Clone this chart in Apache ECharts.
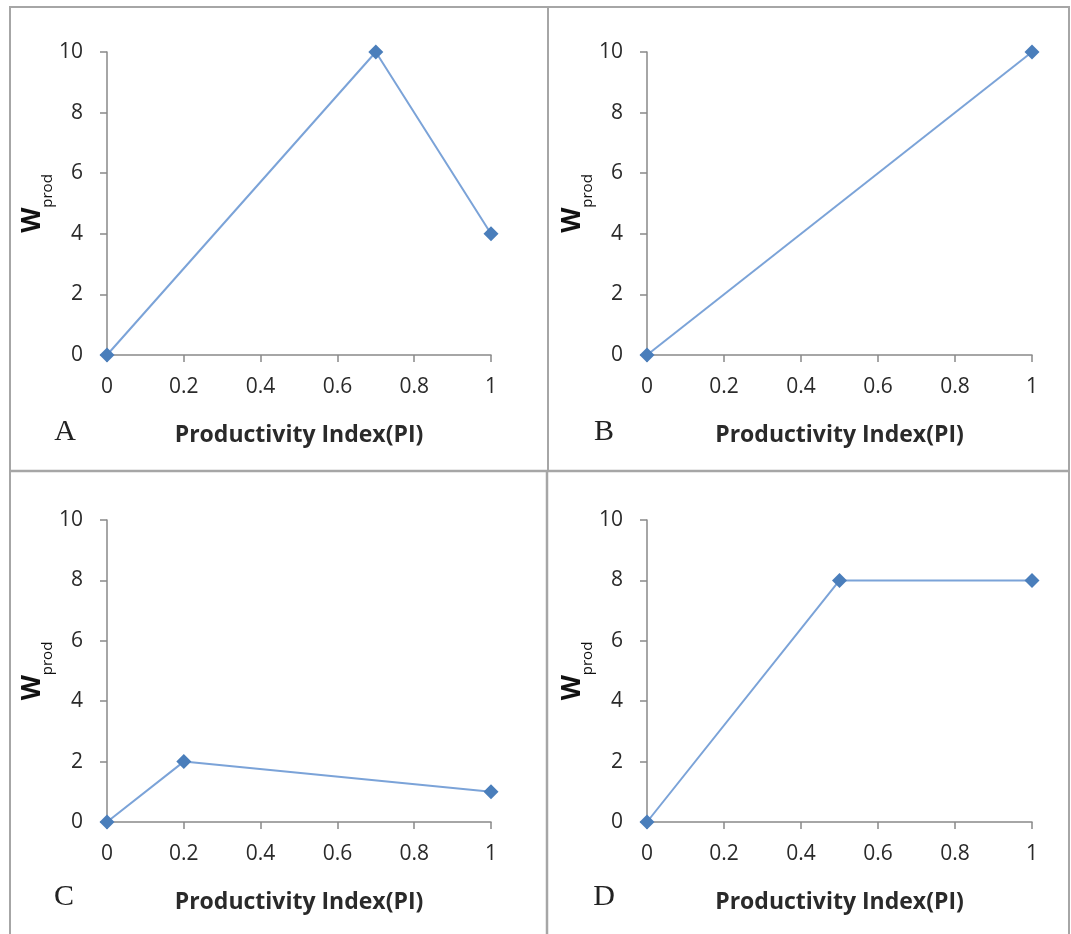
<!DOCTYPE html>
<html>
<head>
<meta charset="utf-8">
<script src="https://cdn.jsdelivr.net/npm/echarts@6/dist/echarts.min.js"></script>
<style>html,body{margin:0;padding:0;background:#fff;}#c{width:1071px;height:934px;}</style>
</head>
<body>
<div id="c"></div>
<script>
const panelLetters = ['A', 'B', 'C', 'D'];
const seriesA = [[0, 0], [0.7, 10], [1, 4]];
const seriesB = [[0, 0], [1, 10]];
const seriesC = [[0, 0], [0.2, 2], [1, 1]];
const seriesD = [[0, 0], [0.5, 8], [1, 8]];
const xTitle = 'Productivity Index(PI)';
const yTitleMain = 'W';
const yTitleSub = 'prod';

const panelData = [seriesA, seriesB, seriesC, seriesD];
const grids = [
  {left: 107, top: 52, width: 384, height: 303},
  {left: 647, top: 52, width: 385, height: 303},
  {left: 107, top: 520, width: 384, height: 302},
  {left: 647, top: 520, width: 385, height: 302}
];
const axisColor = '#898989';
const labelFont = '"Open Sans", "Liberation Sans", sans-serif';

const option = {
  animation: false,
  backgroundColor: '#fff',
  grid: grids.map(g => Object.assign({containLabel: false}, g)),
  xAxis: grids.map((g, i) => ({
    type: 'value', gridIndex: i, min: 0, max: 1, interval: 0.2,
    name: xTitle, nameLocation: 'middle', nameGap: 69,
    nameTextStyle: {fontFamily: labelFont, fontSize: 23, fontWeight: 'bold', color: '#2a2a2a'},
    axisLine: {show: true, lineStyle: {color: axisColor, width: 1.5}},
    axisTick: {show: true, length: 7, lineStyle: {color: axisColor, width: 1.5}},
    splitLine: {show: false},
    axisLabel: {margin: 22, fontFamily: labelFont, fontSize: 21, color: '#2a2a2a',
      formatter: v => String(Math.round(v * 10) / 10)}
  })),
  yAxis: grids.map((g, i) => ({
    type: 'value', gridIndex: i, min: 0, max: 10, interval: 2,
    name: '{w|' + yTitleMain + '}{s|' + yTitleSub + '}', nameLocation: 'middle', nameGap: 52, nameRotate: 90,
    nameTextStyle: {
      rich: {
        w: {fontFamily: labelFont, fontSize: 26, fontWeight: 'bold', color: '#111', verticalAlign: 'bottom', padding: [0, 0, 9, 0]},
        s: {fontFamily: labelFont, fontSize: 15, color: '#111', verticalAlign: 'bottom'}
      }
    },
    axisLine: {show: true, lineStyle: {color: axisColor, width: 1.5}},
    axisTick: {show: true, length: 7, lineStyle: {color: axisColor, width: 1.5}},
    splitLine: {show: false},
    axisLabel: {margin: 24, fontFamily: labelFont, fontSize: 21, color: '#2a2a2a'}
  })),
  series: panelData.map((d, i) => ({
    type: 'line', xAxisIndex: i, yAxisIndex: i, data: d,
    symbol: 'diamond', symbolSize: 15,
    lineStyle: {color: '#7BA3D8', width: 2},
    itemStyle: {color: '#4A7EBB'}
  })),
  graphic: [
    {type: 'line', shape: {x1: 9, y1: 7, x2: 1069, y2: 7}, style: {stroke: '#a6a6a6', lineWidth: 2}},
    {type: 'line', shape: {x1: 10, y1: 6, x2: 10, y2: 934}, style: {stroke: '#a6a6a6', lineWidth: 2}},
    {type: 'line', shape: {x1: 1069, y1: 6, x2: 1069, y2: 934}, style: {stroke: '#a6a6a6', lineWidth: 2}},
    {type: 'line', shape: {x1: 9, y1: 471, x2: 1069, y2: 471}, style: {stroke: '#a6a6a6', lineWidth: 2.5}},
    {type: 'line', shape: {x1: 548, y1: 6, x2: 548, y2: 471}, style: {stroke: '#a6a6a6', lineWidth: 2}},
    {type: 'line', shape: {x1: 547, y1: 471, x2: 547, y2: 934}, style: {stroke: '#a6a6a6', lineWidth: 2.5}}
  ].concat(panelLetters.map((L, i) => ({
    type: 'text',
    x: [65, 604, 64, 604][i], y: [432, 432, 897, 897][i],
    style: {text: L, fontFamily: '"Liberation Serif", serif', fontSize: 30, fill: '#222', textAlign: 'center', textVerticalAlign: 'middle'}
  })))
};
const chart = echarts.init(document.getElementById('c'), null, {renderer: 'canvas'});
chart.setOption(option);
</script>
</body>
</html>
